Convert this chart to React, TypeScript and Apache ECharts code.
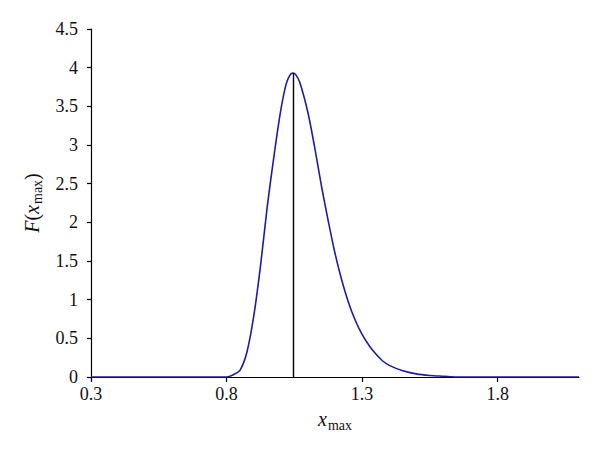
import React, { useEffect, useRef } from "react";
import * as echarts from "echarts";

const xValues = [0.3, 0.4, 0.5, 0.6, 0.7, 0.8, 0.825, 0.85, 0.875, 0.9, 0.925, 0.95, 0.975, 1.0, 1.02, 1.035, 1.045, 1.055, 1.07, 1.1, 1.125, 1.15, 1.175, 1.2, 1.225, 1.25, 1.275, 1.3, 1.325, 1.35, 1.375, 1.4, 1.45, 1.5, 1.55, 1.6, 1.65, 1.8, 2.0, 2.1];
const yValues = [0, 0, 0, 0, 0, 0, 0.03, 0.09, 0.32, 0.78, 1.43, 2.2, 2.86, 3.45, 3.79, 3.91, 3.93, 3.91, 3.81, 3.42, 2.97, 2.47, 2.02, 1.6, 1.25, 0.96, 0.73, 0.55, 0.41, 0.3, 0.21, 0.15, 0.08, 0.04, 0.02, 0.01, 0, 0, 0, 0];
const xTicks = [0.3, 0.8, 1.3, 1.8];
const peakX = 1.045;
const peakY = 3.93;

export default function App() {
  const ref = useRef<HTMLDivElement>(null);
  useEffect(() => {
    const chart = echarts.init(ref.current!, null, { renderer: "svg" });
    const font = "'Liberation Serif', 'DejaVu Serif', serif";
    chart.setOption({
      animation: false,
      backgroundColor: "#ffffff",
      grid: { left: 83, top: 21, right: 29, bottom: 81, containLabel: false },
      xAxis: {
        type: "value",
        min: 0.3,
        max: 2.1,
        interval: 0.5,
        splitLine: { show: false },
        axisLine: { show: true, lineStyle: { color: "#000", width: 1.2 } },
        axisTick: { show: true, length: 5, inside: false, lineStyle: { color: "#000", width: 1.2 }, customValues: xTicks },
        axisLabel: { color: "#111", fontFamily: font, fontSize: 18, margin: 8, customValues: xTicks, formatter: (v: number) => String(v) },
        name: "{i|x}{s|max}",
        nameLocation: "middle",
        nameGap: 30,
        nameTextStyle: {
          color: "#111",
          fontFamily: font,
          rich: {
            i: { fontSize: 20, fontStyle: "italic", fontFamily: font, color: "#111", lineHeight: 22, verticalAlign: "bottom" },
            s: { fontSize: 14, fontFamily: font, color: "#111", lineHeight: 22, verticalAlign: "bottom", padding: [0, 0, -3, 1] },
          },
        },
      },
      yAxis: {
        type: "value",
        min: 0,
        max: 4.5,
        interval: 0.5,
        splitLine: { show: false },
        axisLine: { show: true, lineStyle: { color: "#000", width: 1.2 } },
        axisTick: { show: true, length: 4, inside: false, lineStyle: { color: "#000", width: 1.2 } },
        axisLabel: { color: "#111", fontFamily: font, fontSize: 18, margin: 13, formatter: (v: number) => String(v) },
        name: "{i|F}{n|(}{i|x}{s|max}{n|)}",
        nameLocation: "middle",
        nameRotate: 90,
        nameGap: 48,
        nameTextStyle: {
          color: "#111",
          fontFamily: font,
          rich: {
            i: { fontSize: 20, fontStyle: "italic", fontFamily: font, color: "#111", lineHeight: 22, verticalAlign: "bottom" },
            n: { fontSize: 20, fontFamily: font, color: "#111", lineHeight: 22, verticalAlign: "bottom" },
            s: { fontSize: 14, fontFamily: font, color: "#111", lineHeight: 22, verticalAlign: "bottom", padding: [0, 0, -3, 1] },
          },
        },
      },
      series: [
        {
          type: "line",
          data: xValues.map((x, i) => [x, yValues[i]]),
          smooth: 0.3,
          showSymbol: false,
          lineStyle: { color: "#1c1ca6", width: 1.6 },
          z: 3,
          markLine: {
            silent: true,
            symbol: ["none", "none"],
            label: { show: false },
            lineStyle: { color: "#000", width: 1.4, type: "solid" },
            data: [[{ coord: [peakX, 0] }, { coord: [peakX, peakY] }]],
          },
        },
      ],
    });
    return () => chart.dispose();
  }, []);
  return <div ref={ref} style={{ width: 600, height: 450 }} />;
}
